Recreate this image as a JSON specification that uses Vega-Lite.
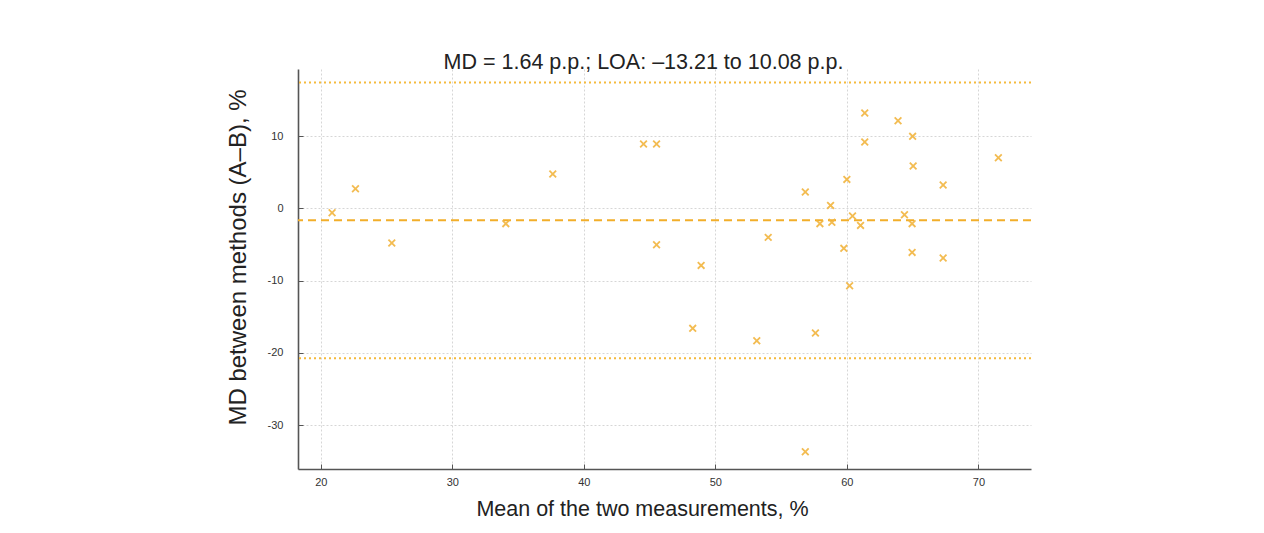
{
  "$schema": "https://vega.github.io/schema/vega-lite/v6.json",
  "width": 733,
  "height": 400,
  "autosize": "none",
  "padding": {"left": 298, "top": 69, "right": 233, "bottom": 64},
  "background": "white",
  "title": {
    "text": "MD = 1.64 p.p.; LOA: –13.21 to 10.08 p.p.",
    "font": "Liberation Sans",
    "fontSize": 21.5,
    "fontWeight": "normal",
    "color": "#222222",
    "anchor": "middle",
    "dx": -21,
    "dy": 24,
    "baseline": "alphabetic",
    "offset": 3
  },
  "config": {
    "view": {"stroke": null},
    "axis": {
      "labelFont": "Liberation Sans",
      "labelFontSize": 11,
      "labelColor": "#333333",
      "titleFont": "Liberation Sans",
      "titleFontWeight": "normal",
      "titleColor": "#222222",
      "domainColor": "#555555",
      "domainWidth": 1.6,
      "tickColor": "#555555",
      "tickWidth": 1,
      "tickSize": -5,
      "gridColor": "#d6d6d6",
      "gridDash": [2, 2],
      "gridWidth": 1,
      "labelExpr": "replace(datum.label, '−', '-')"
    }
  },
  "datasets": {
    "pts": [
      {"m": 20.86, "d": -0.6},
      {"m": 22.64, "d": 2.74},
      {"m": 25.40, "d": -4.78},
      {"m": 34.07, "d": -2.1},
      {"m": 37.64, "d": 4.78},
      {"m": 44.54, "d": 8.93},
      {"m": 45.53, "d": 8.93},
      {"m": 45.53, "d": -5.01},
      {"m": 48.28, "d": -16.6},
      {"m": 48.92, "d": -7.88},
      {"m": 53.15, "d": -18.31},
      {"m": 54.02, "d": -4.0},
      {"m": 56.84, "d": 2.28},
      {"m": 56.84, "d": -33.68},
      {"m": 57.61, "d": -17.25},
      {"m": 57.95, "d": -2.1},
      {"m": 58.76, "d": 0.43},
      {"m": 58.86, "d": -1.92},
      {"m": 59.77, "d": -5.52},
      {"m": 60.0, "d": 4.03},
      {"m": 60.21, "d": -10.69},
      {"m": 60.43, "d": -1.04},
      {"m": 61.04, "d": -2.34},
      {"m": 61.36, "d": 13.22},
      {"m": 61.36, "d": 9.21},
      {"m": 63.89, "d": 12.16},
      {"m": 64.38, "d": -0.86},
      {"m": 64.96, "d": -2.1},
      {"m": 64.96, "d": -6.08},
      {"m": 65.0, "d": 9.99},
      {"m": 65.04, "d": 5.88},
      {"m": 67.32, "d": 3.25},
      {"m": 67.32, "d": -6.86},
      {"m": 71.52, "d": 7.04}
    ],
    "md": [{"y": -1.64}],
    "loa": [{"y": 17.46}, {"y": -20.74}]
  },
  "layer": [
    {
      "data": {"name": "loa"},
      "mark": {"type": "rule", "color": "#F5BA3C", "strokeWidth": 2, "strokeDash": [2, 3]},
      "encoding": {
        "y": {"field": "y", "type": "quantitative", "scale": {"domain": [-36.08, 19.32], "nice": false, "zero": false}}
      }
    },
    {
      "data": {"name": "md"},
      "mark": {"type": "rule", "color": "#F2AE2A", "strokeWidth": 2, "strokeDash": [8, 5]},
      "encoding": {
        "y": {"field": "y", "type": "quantitative"}
      }
    },
    {
      "data": {"name": "pts"},
      "mark": {"type": "point", "shape": "M-1,-1L1,1M-1,1L1,-1", "filled": false, "stroke": "#F2B53F", "strokeWidth": 1.8, "size": 45, "opacity": 0.9},
      "encoding": {
        "x": {
          "field": "m", "type": "quantitative",
          "scale": {"domain": [18.27, 74.0], "nice": false, "zero": false},
          "axis": {
            "values": [20, 30, 40, 50, 60, 70],
            "title": "Mean of the two measurements, %",
            "titleFontSize": 21.5,
            "titleX": 344,
            "titleY": 46,
            "titleBaseline": "alphabetic",
            "labelPadding": 12
          }
        },
        "y": {
          "field": "d", "type": "quantitative",
          "axis": {
            "values": [10, 0, -10, -20, -30],
            "title": "MD between methods (A–B), %",
            "titleFontSize": 24,
            "titleX": -53,
            "titleY": 188,
            "titleAngle": -90,
            "titleBaseline": "alphabetic",
            "titleAlign": "center",
            "labelPadding": 20
          }
        }
      }
    }
  ]
}
